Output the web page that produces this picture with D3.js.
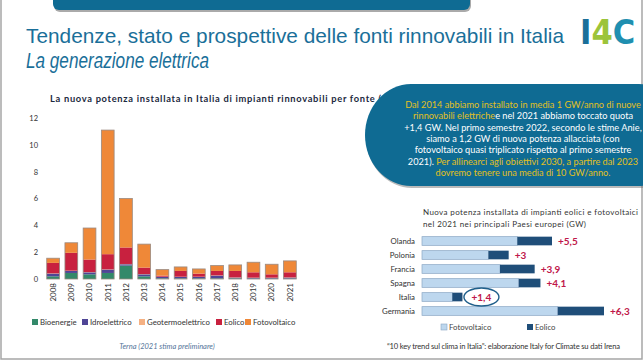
<!DOCTYPE html>
<html>
<head>
<meta charset="utf-8">
<script src="https://cdn.jsdelivr.net/npm/d3@7"></script>
<style>
  html, body { margin: 0; padding: 0; background: #fff; }
  svg { display: block; }
</style>
</head>
<body>
<svg id="slide" width="643" height="361"></svg>
<script>
// left chart: new installed capacity in Italy by source (GW)
const years = ["2008","2009","2010","2011","2012","2013","2014","2015","2016","2017","2018","2019","2020","2021"];
const sources = ["Bioenergie", "Idroelettrico", "Geotermoelettrico", "Eolico", "Fotovoltaico"];
const bioenergie   = [0.20, 0.45, 0.35, 0.45, 1.00, 0.20, 0.05, 0.05, 0.05, 0.05, 0.05, 0.03, 0.03, 0.03];
const idroelettrico = [0.20, 0.15, 0.15, 0.25, 0.10, 0.15, 0.10, 0.10, 0.10, 0.20, 0.05, 0.05, 0.05, 0.07];
const geotermo     = [0.02, 0.02, 0.02, 0.02, 0.02, 0.02, 0.02, 0.02, 0.02, 0.02, 0.02, 0.02, 0.02, 0.02];
const eolico       = [0.78, 1.33, 0.93, 1.13, 1.23, 0.48, 0.08, 0.43, 0.23, 0.33, 0.48, 0.40, 0.25, 0.38];
const fotovoltaico = [0.35, 0.75, 2.35, 9.25, 3.65, 1.75, 0.45, 0.30, 0.35, 0.40, 0.45, 0.75, 0.75, 0.85];
const yTicks = [0, 2, 4, 6, 8, 10, 12];

// right chart: new wind + PV capacity 2021 in main EU countries (GW)
const countries = ["Olanda", "Polonia", "Francia", "Spagna", "Italia", "Germania"];
const euFotovoltaico = [3.3, 2.3, 2.7, 3.35, 1.05, 4.7];
const euEolico       = [1.2, 0.7, 1.2, 0.75, 0.35, 1.6];
const euTotals       = ["+5,5", "+3", "+3,9", "+4,1", "+1,4", "+6,3"];

const blue = "#0f6b93";
const svg = d3.select("#slide");

// slide frame
svg.append("rect").attr("x", 1).attr("y", -5).attr("width", 641).attr("height", 364)
  .attr("fill", "none").attr("stroke", "#a6a6a6").attr("stroke-width", 1.5);

// top banner
svg.append("rect").attr("x", 54).attr("y", -20).attr("width", 417).attr("height", 32)
  .attr("rx", 6).attr("fill", "#555").attr("opacity", 0.5);
svg.append("rect").attr("x", 53).attr("y", -20).attr("width", 417).attr("height", 30)
  .attr("rx", 6).attr("fill", blue);

// title
svg.append("text").attr("x", 26).attr("y", 43)
  .attr("font-family", "Liberation Sans, Arial, sans-serif").attr("font-size", 21)
  .attr("textLength", 538).attr("lengthAdjust", "spacingAndGlyphs")
  .attr("fill", "#1a6f99").text("Tendenze, stato e prospettive delle fonti rinnovabili in Italia");
svg.append("text").attr("x", 26).attr("y", 68)
  .attr("font-family", "Liberation Sans, Arial, sans-serif").attr("font-size", 21.5)
  .attr("textLength", 183).attr("lengthAdjust", "spacingAndGlyphs")
  .attr("font-style", "italic").attr("fill", "#1a6f99").text("La generazione elettrica");

// logo
const logo = svg.append("text").attr("x", 580).attr("y", 44)
  .attr("font-family", "DejaVu Sans Condensed, DejaVu Sans, sans-serif")
  .attr("font-weight", "bold").attr("font-size", 34);
logo.append("tspan").attr("fill", "#1a6f99").text("I");
logo.append("tspan").attr("fill", "#9cc43a").text("4");
logo.append("tspan").attr("fill", "#1f8fb0").text("C");

// ---------- left stacked bar chart ----------
const leftTitle = "La nuova potenza installata in Italia di impianti rinnovabili per fonte (GW)";
svg.append("text").attr("x", 50).attr("y", 102)
  .attr("font-family", "Lato, sans-serif").attr("font-weight", "bold").attr("font-size", 9.3)
  .attr("textLength", 352).attr("lengthAdjust", "spacing")
  .attr("fill", "#1c2940").text(leftTitle);

const colors = d3.scaleOrdinal().domain(sources)
  .range(["#33896a", "#4f4596", "#f5b183", "#c8213f", "#ef8838"]);

const rows = years.map((y, i) => ({
  year: y,
  Bioenergie: bioenergie[i],
  Idroelettrico: idroelettrico[i],
  Geotermoelettrico: geotermo[i],
  Eolico: eolico[i],
  Fotovoltaico: fotovoltaico[i]
}));

const x = d3.scaleBand().domain(years).range([44, 299]).paddingInner(0.3).paddingOuter(0.15);
const y = d3.scaleLinear().domain([0, 12]).range([279, 118]);

const stack = d3.stack().keys(sources)(rows);

const chart = svg.append("g");
chart.selectAll("g.layer").data(stack).enter().append("g")
  .attr("fill", d => colors(d.key))
  .selectAll("rect").data(d => d).enter().append("rect")
    .attr("x", d => x(d.data.year))
    .attr("width", x.bandwidth())
    .attr("y", d => y(d[1]))
    .attr("height", d => y(d[0]) - y(d[1]));

// thin outline of each full bar
const total = d => sources.reduce((s, k) => s + d[k], 0);
chart.selectAll("rect.outline").data(rows).enter().append("rect")
  .attr("class", "outline")
  .attr("x", d => x(d.year))
  .attr("width", x.bandwidth())
  .attr("y", d => y(total(d)))
  .attr("height", d => y(0) - y(total(d)))
  .attr("fill", "none").attr("stroke", "#9a8a80").attr("stroke-width", 0.8);

const yAxis = chart.append("g").attr("transform", "translate(38,0)")
  .call(d3.axisLeft(y).tickValues(yTicks).tickSize(0).tickPadding(0));
yAxis.select(".domain").remove();
yAxis.selectAll("text").attr("font-family", "Lato, sans-serif").attr("font-size", 7.5).attr("fill", "#333");

const xAxis = chart.append("g").attr("transform", "translate(0,283)")
  .call(d3.axisBottom(x).tickSize(0).tickPadding(0));
xAxis.select(".domain").remove();
xAxis.selectAll("text")
  .attr("font-family", "Lato, sans-serif").attr("font-size", 8).attr("fill", "#333")
  .attr("text-anchor", "end").attr("dy", "0.35em").attr("y", 0).attr("x", 0)
  .attr("transform", "rotate(-90)");

// left legend
const legendX = [32, 82, 139, 216, 245];
const legL = svg.append("g").selectAll("g").data(sources).enter().append("g")
  .attr("transform", (d, i) => `translate(${legendX[i]},322)`);
legL.append("rect").attr("x", 0).attr("y", -3).attr("width", 6).attr("height", 6)
  .attr("fill", d => colors(d));
legL.append("text").attr("x", 8).attr("y", 3)
  .attr("font-family", "Lato, sans-serif").attr("font-size", 7.8).attr("fill", "#333")
  .text(d => d);

svg.append("text").attr("x", 167).attr("y", 349).attr("text-anchor", "middle")
  .attr("font-family", "Lato, sans-serif").attr("font-style", "italic").attr("font-size", 7.5)
  .attr("fill", "#55759a").text("Terna (2021 stima preliminare)");

// ---------- callout ----------
svg.append("rect").attr("x", 366).attr("y", 86).attr("width", 320).attr("height", 102)
  .attr("rx", 46).attr("ry", 52).attr("fill", "#666").attr("opacity", 0.45);
svg.append("rect").attr("x", 365).attr("y", 84).attr("width", 320).attr("height", 102)
  .attr("rx", 46).attr("ry", 52).attr("fill", blue);

const yellow = "#e2c01e";
const calloutLines = [
  [["Dal 2014 abbiamo installato in media 1 GW/anno di nuove", yellow]],
  [["rinnovabili elettriche", yellow], ["e nel 2021 abbiamo toccato quota", "#fff"]],
  [["+1,4 GW. Nel primo semestre 2022, secondo le stime Anie,", "#fff"]],
  [["siamo a 1,2 GW di nuova potenza allacciata (con", "#fff"]],
  [["fotovoltaico quasi triplicato rispetto al primo semestre", "#fff"]],
  [["2021). ", "#fff"], ["Per allinearci agli obiettivi 2030, a partire dal 2023", yellow]],
  [["dovremo tenere una media di 10 GW/anno.", yellow]]
];
const callout = svg.append("g").selectAll("text").data(calloutLines).enter().append("text")
  .attr("x", 523).attr("y", (d, i) => 108 + i * 11.3)
  .attr("text-anchor", "middle")
  .attr("font-family", "Lato, sans-serif").attr("font-size", 9.2);
callout.selectAll("tspan").data(d => d).enter().append("tspan")
  .attr("fill", d => d[1]).text(d => d[0]);

// ---------- right horizontal bar chart ----------
const rt = svg.append("g").attr("font-family", "Lato, sans-serif");
rt.append("text").attr("x", 423).attr("y", 215).attr("font-size", 8)
  .attr("textLength", 215).attr("lengthAdjust", "spacing")
  .attr("fill", "#333").text("Nuova potenza installata di impianti eolici e fotovoltaici");
rt.append("text").attr("x", 423).attr("y", 227).attr("font-size", 8)
  .attr("textLength", 163).attr("lengthAdjust", "spacing")
  .attr("fill", "#333").text("nel 2021 nei principali Paesi europei (GW)");

const xr = d3.scaleLinear().domain([0, 6.3]).range([422, 604]);
const yr = d3.scaleBand().domain(countries).range([234, 318]).paddingInner(0.38).paddingOuter(0.19);

rt.selectAll("rect.fv").data(countries).enter().append("rect")
  .attr("x", xr(0)).attr("y", d => yr(d))
  .attr("width", (d, i) => xr(euFotovoltaico[i]) - xr(0)).attr("height", yr.bandwidth())
  .attr("fill", "#bdd7ee").attr("stroke", "#8aa6c4").attr("stroke-width", 0.7);
rt.selectAll("rect.eo").data(countries).enter().append("rect")
  .attr("x", (d, i) => xr(euFotovoltaico[i])).attr("y", d => yr(d))
  .attr("width", (d, i) => xr(euFotovoltaico[i] + euEolico[i]) - xr(euFotovoltaico[i]))
  .attr("height", yr.bandwidth()).attr("fill", "#1f4e79");

const yAxisR = rt.append("g").attr("transform", "translate(415,0)")
  .call(d3.axisLeft(yr).tickSize(0).tickPadding(0));
yAxisR.select(".domain").remove();
yAxisR.selectAll("text").attr("font-family", "Lato, sans-serif").attr("font-size", 7.8).attr("fill", "#333");

rt.selectAll("text.tot").data(countries).enter().append("text")
  .attr("x", (d, i) => xr(euFotovoltaico[i] + euEolico[i]) + (d === "Italia" ? 9 : 6))
  .attr("y", d => yr(d) + yr.bandwidth() / 2).attr("dy", "0.36em")
  .attr("font-size", 10).attr("font-weight", "bold").attr("fill", "#c0174a")
  .text((d, i) => euTotals[i]);

// highlight ellipse round the Italian total
const iIt = countries.indexOf("Italia");
rt.append("ellipse")
  .attr("cx", xr(euFotovoltaico[iIt] + euEolico[iIt]) + 19)
  .attr("cy", yr("Italia") + yr.bandwidth() / 2)
  .attr("rx", 17.5).attr("ry", 9)
  .attr("fill", "none").attr("stroke", "#1f5f8b").attr("stroke-width", 1.4);

// right legend
const legR = rt.append("g");
legR.append("rect").attr("x", 441).attr("y", 324).attr("width", 6).attr("height", 6)
  .attr("fill", "#bdd7ee").attr("stroke", "#8aa6c4").attr("stroke-width", 0.6);
legR.append("text").attr("x", 449).attr("y", 330).attr("font-size", 7.8).attr("fill", "#444").text("Fotovoltaico");
legR.append("rect").attr("x", 527).attr("y", 324).attr("width", 6).attr("height", 6).attr("fill", "#1f4e79");
legR.append("text").attr("x", 535).attr("y", 330).attr("font-size", 7.8).attr("fill", "#444").text("Eolico");

rt.append("text").attr("x", 387).attr("y", 349).attr("font-size", 7.6).attr("fill", "#333")
  .attr("textLength", 233).attr("lengthAdjust", "spacing")
  .text("“10 key trend sul clima in Italia”: elaborazione Italy for Climate su dati Irena");
</script>
</body>
</html>
